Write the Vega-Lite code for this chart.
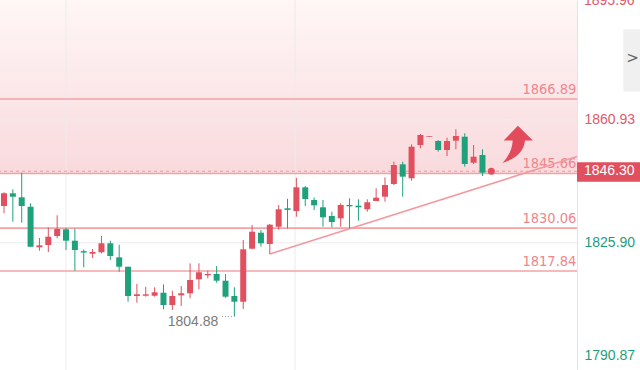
{
  "$schema": "https://vega.github.io/schema/vega-lite/v6.json",
  "width": 577,
  "height": 370,
  "autosize": {"type": "none"},
  "padding": {"left": 0, "top": 0, "right": 63, "bottom": 0},
  "background": "white",
  "config": {"view": {"stroke": null}},
  "datasets": {
    "candles": [
      {"i": 0, "o": 1836.38, "h": 1840.3, "l": 1834.3, "c": 1840.0},
      {"i": 1, "o": 1840.0, "h": 1841.14, "l": 1831.9, "c": 1839.03},
      {"i": 2, "o": 1838.86, "h": 1845.88, "l": 1831.62, "c": 1836.38},
      {"i": 3, "o": 1836.18, "h": 1837.15, "l": 1824.78, "c": 1824.78},
      {"i": 4, "o": 1824.6, "h": 1827.26, "l": 1823.64, "c": 1825.17},
      {"i": 5, "o": 1825.26, "h": 1830.31, "l": 1823.26, "c": 1827.63},
      {"i": 6, "o": 1827.83, "h": 1833.73, "l": 1827.17, "c": 1829.82},
      {"i": 7, "o": 1829.74, "h": 1830.1, "l": 1823.83, "c": 1826.49},
      {"i": 8, "o": 1826.49, "h": 1829.91, "l": 1817.93, "c": 1823.83},
      {"i": 9, "o": 1823.5, "h": 1824.0, "l": 1818.9, "c": 1823.1},
      {"i": 10, "o": 1822.78, "h": 1824.12, "l": 1821.55, "c": 1823.26},
      {"i": 11, "o": 1823.18, "h": 1827.83, "l": 1822.89, "c": 1825.75},
      {"i": 12, "o": 1825.75, "h": 1826.49, "l": 1820.98, "c": 1822.12},
      {"i": 13, "o": 1821.75, "h": 1825.35, "l": 1817.65, "c": 1819.07},
      {"i": 14, "o": 1819.07, "h": 1819.07, "l": 1809.09, "c": 1810.72},
      {"i": 15, "o": 1810.72, "h": 1814.14, "l": 1808.81, "c": 1811.2},
      {"i": 16, "o": 1810.8, "h": 1813.37, "l": 1810.52, "c": 1811.2},
      {"i": 17, "o": 1810.8, "h": 1813.2, "l": 1810.52, "c": 1811.77},
      {"i": 18, "o": 1811.66, "h": 1814.05, "l": 1806.93, "c": 1808.15},
      {"i": 19, "o": 1808.15, "h": 1812.23, "l": 1806.73, "c": 1810.72},
      {"i": 20, "o": 1810.92, "h": 1813.57, "l": 1807.87, "c": 1811.49},
      {"i": 21, "o": 1811.49, "h": 1820.04, "l": 1810.06, "c": 1815.28},
      {"i": 22, "o": 1815.48, "h": 1820.04, "l": 1812.63, "c": 1817.48},
      {"i": 23, "o": 1816.62, "h": 1817.93, "l": 1815.77, "c": 1816.99},
      {"i": 24, "o": 1816.99, "h": 1819.27, "l": 1814.51, "c": 1815.08},
      {"i": 25, "o": 1815.08, "h": 1816.99, "l": 1810.23, "c": 1810.52},
      {"i": 26, "o": 1810.72, "h": 1813.2, "l": 1804.88, "c": 1809.09},
      {"i": 27, "o": 1809.09, "h": 1826.69, "l": 1807.01, "c": 1824.03},
      {"i": 28, "o": 1824.21, "h": 1830.96, "l": 1824.03, "c": 1829.05},
      {"i": 29, "o": 1828.77, "h": 1829.54, "l": 1824.78, "c": 1825.75},
      {"i": 30, "o": 1825.55, "h": 1831.25, "l": 1822.69, "c": 1831.05},
      {"i": 31, "o": 1830.48, "h": 1836.67, "l": 1829.62, "c": 1835.44},
      {"i": 32, "o": 1835.73, "h": 1838.43, "l": 1830.02, "c": 1835.27},
      {"i": 33, "o": 1834.96, "h": 1844.42, "l": 1833.33, "c": 1841.71},
      {"i": 34, "o": 1841.71, "h": 1842.08, "l": 1836.38, "c": 1838.38},
      {"i": 35, "o": 1838.09, "h": 1838.8, "l": 1835.24, "c": 1836.58},
      {"i": 36, "o": 1836.01, "h": 1838.09, "l": 1830.48, "c": 1833.16},
      {"i": 37, "o": 1833.53, "h": 1834.76, "l": 1830.31, "c": 1831.82},
      {"i": 38, "o": 1832.87, "h": 1837.15, "l": 1830.48, "c": 1836.67},
      {"i": 39, "o": 1836.67, "h": 1838.58, "l": 1830.02, "c": 1836.3},
      {"i": 40, "o": 1836.47, "h": 1838.29, "l": 1832.19, "c": 1836.01},
      {"i": 41, "o": 1835.44, "h": 1838.29, "l": 1834.76, "c": 1837.44},
      {"i": 42, "o": 1837.81, "h": 1841.43, "l": 1837.81, "c": 1838.75},
      {"i": 43, "o": 1839.03, "h": 1844.56, "l": 1837.61, "c": 1842.37},
      {"i": 44, "o": 1842.65, "h": 1849.01, "l": 1842.37, "c": 1848.07},
      {"i": 45, "o": 1848.27, "h": 1849.01, "l": 1839.03, "c": 1844.74},
      {"i": 46, "o": 1844.28, "h": 1853.97, "l": 1843.6, "c": 1853.29},
      {"i": 47, "o": 1853.77, "h": 1856.91, "l": 1852.83, "c": 1856.63},
      {"i": 48, "o": 1856.14, "h": 1856.34, "l": 1856.14, "c": 1856.34},
      {"i": 49, "o": 1854.92, "h": 1855.2, "l": 1851.86, "c": 1852.35},
      {"i": 50, "o": 1852.35, "h": 1855.86, "l": 1850.64, "c": 1854.92},
      {"i": 51, "o": 1855.0, "h": 1858.25, "l": 1852.55, "c": 1856.34},
      {"i": 52, "o": 1856.14, "h": 1857.11, "l": 1847.59, "c": 1848.36},
      {"i": 53, "o": 1848.73, "h": 1853.77, "l": 1848.36, "c": 1850.44},
      {"i": 54, "o": 1850.92, "h": 1852.55, "l": 1844.94, "c": 1845.88}
    ],
    "levels": [
      {"v": 1866.89, "label": "1866.89"},
      {"v": 1845.66, "label": "1845.66"},
      {"v": 1830.06, "label": "1830.06"},
      {"v": 1817.84, "label": "1817.84"}
    ],
    "trend": [
      {"i": 30, "p": 1822.69},
      {"i": 64.67, "p": 1850.49}
    ],
    "zone": [{"lo": 1845.66, "hi": 1895.12}],
    "vgrid": [{"i": 7}, {"i": 32.85}],
    "hgrid": [{"p": 1860.93}, {"p": 1825.9}],
    "last": [{"i": 55, "p": 1846.3, "label": "1846.30", "i1": 64.67, "i2": 71.8, "lo": 1843.31, "hi": 1848.84}],
    "topLabel": [{"i1": 64.67, "p": 1895.96, "label": "1895.96"}],
    "low": [{"i": 26, "i0": 24.6, "p": 1804.88, "label": "1804.88"}],
    "arrow": [{"i": 58.0, "p": 1853.9}],
    "btn": [{"i1": 69.9, "i2": 71.9, "lo": 1869.0, "hi": 1886.8, "im": 70.95, "pm": 1878.6, "label": ">"}]
  },
  "layer": [
    {
      "data": {"name": "zone"},
      "mark": {"type": "rect", "fill": {"gradient": "linear", "x1": 0, "y1": 0, "x2": 0, "y2": 1, "stops": [{"offset": 0, "color": "#fff6f6"}, {"offset": 1, "color": "#f9dadd"}]}},
      "encoding": {
        "y": {"field": "lo", "type": "quantitative", "scale": {"domain": [1789.62, 1895.12], "nice": false, "zero": false, "padding": 0},
          "axis": {"orient": "right", "title": null, "values": [1860.93, 1825.9, 1790.87], "format": ".2f", "grid": false, "ticks": false,
            "domainColor": "#e4e4e4", "labelFont": "Liberation Sans", "labelFontSize": 14, "labelPadding": 7, "labelBaseline": "middle", "labelFlush": false, "labelOverlap": false, "labelBound": false,
            "labelColor": {"condition": {"test": "datum.value > 1846", "value": "#e0596b"}, "value": "#1e9e78"},
            "labelOffset": {"condition": [{"test": "datum.value < 1800", "value": -10}], "value": 0}}},
        "y2": {"field": "hi"}
      }
    },
    {
      "data": {"name": "vgrid"},
      "mark": {"type": "rule", "color": "#ececec", "strokeWidth": 1},
      "encoding": {"x": {"field": "i", "type": "quantitative", "scale": {"domain": [-0.451, 64.67], "nice": false, "zero": false, "padding": 0}, "axis": null}}
    },
    {
      "data": {"name": "hgrid"},
      "mark": {"type": "rule", "color": "#ececec", "strokeWidth": 1},
      "encoding": {"y": {"field": "p", "type": "quantitative"}}
    },
    {
      "data": {"name": "levels"},
      "mark": {"type": "rule", "color": "#f4a2a6", "strokeWidth": 1.6},
      "encoding": {"y": {"field": "v", "type": "quantitative"}}
    },
    {
      "data": {"name": "last"},
      "mark": {"type": "rule", "color": "#f29aa0", "strokeWidth": 1, "strokeDash": [3, 3]},
      "encoding": {"y": {"field": "p", "type": "quantitative"}}
    },
    {
      "data": {"name": "levels"},
      "mark": {"type": "text", "font": "Liberation Sans Narrow, DejaVu Sans Condensed, Liberation Sans", "fontSize": 14.5, "color": "#f0868d", "align": "right", "baseline": "bottom", "dy": -2},
      "encoding": {"x": {"datum": 64.6, "type": "quantitative"}, "y": {"field": "v", "type": "quantitative"}, "text": {"field": "label"}}
    },
    {
      "data": {"name": "trend"},
      "mark": {"type": "line", "color": "#f29aa0", "strokeWidth": 1.6},
      "encoding": {"x": {"field": "i", "type": "quantitative"}, "y": {"field": "p", "type": "quantitative"}}
    },
    {
      "data": {"name": "candles"},
      "mark": {"type": "rule", "strokeWidth": 1},
      "encoding": {
        "x": {"field": "i", "type": "quantitative"},
        "y": {"field": "l", "type": "quantitative"},
        "y2": {"field": "h"},
        "color": {"condition": {"test": "datum.c >= datum.o", "value": "#e0505f"}, "value": "#1fa27b"}
      }
    },
    {
      "data": {"name": "candles"},
      "mark": {"type": "bar", "size": 6, "orient": "vertical"},
      "encoding": {
        "x": {"field": "i", "type": "quantitative"},
        "y": {"field": "o", "type": "quantitative"},
        "y2": {"field": "c"},
        "color": {"condition": {"test": "datum.c >= datum.o", "value": "#e0505f"}, "value": "#1fa27b"}
      }
    },
    {
      "data": {"name": "last"},
      "mark": {"type": "point", "filled": true, "size": 50, "color": "#e0505f", "opacity": 1},
      "encoding": {"x": {"field": "i", "type": "quantitative"}, "y": {"field": "p", "type": "quantitative"}}
    },
    {
      "data": {"name": "arrow"},
      "mark": {"type": "point", "filled": true, "size": 1400, "color": "#e14b5b", "opacity": 1,
        "shape": "M 0 -1 L 0.8 -0.22 L 0.38 -0.22 Q 0.3 0.62 -0.82 0.98 Q -0.3 0.42 -0.28 -0.22 L -0.76 -0.22 Z"},
      "encoding": {"x": {"field": "i", "type": "quantitative"}, "y": {"field": "p", "type": "quantitative"}}
    },
    {
      "data": {"name": "low"},
      "mark": {"type": "rule", "color": "#9a9a9a", "strokeWidth": 1, "strokeDash": [1, 2]},
      "encoding": {"x": {"field": "i0", "type": "quantitative"}, "x2": {"field": "i"}, "y": {"field": "p", "type": "quantitative"}}
    },
    {
      "data": {"name": "low"},
      "mark": {"type": "text", "font": "Liberation Sans", "fontSize": 14, "color": "#7a7a7a", "align": "right", "baseline": "middle", "dx": -16, "dy": 6},
      "encoding": {"x": {"field": "i", "type": "quantitative"}, "y": {"field": "p", "type": "quantitative"}, "text": {"field": "label"}}
    },
    {
      "data": {"name": "last"},
      "mark": {"type": "rect", "color": "#e0505f"},
      "encoding": {"x": {"field": "i1", "type": "quantitative"}, "x2": {"field": "i2"}, "y": {"field": "lo", "type": "quantitative"}, "y2": {"field": "hi"}}
    },
    {
      "data": {"name": "last"},
      "mark": {"type": "text", "font": "Liberation Sans", "fontSize": 14, "color": "white", "align": "left", "baseline": "middle", "dx": 7},
      "encoding": {"x": {"field": "i1", "type": "quantitative"}, "y": {"field": "p", "type": "quantitative"}, "text": {"field": "label"}}
    },
    {
      "data": {"name": "topLabel"},
      "mark": {"type": "text", "font": "Liberation Sans", "fontSize": 14, "color": "#e0596b", "align": "left", "baseline": "middle", "dx": 7, "dy": 4},
      "encoding": {"x": {"field": "i1", "type": "quantitative"}, "y": {"field": "p", "type": "quantitative"}, "text": {"field": "label"}}
    },
    {
      "data": {"name": "btn"},
      "mark": {"type": "rect", "color": "#f0f0f0"},
      "encoding": {"x": {"field": "i1", "type": "quantitative"}, "x2": {"field": "i2"}, "y": {"field": "lo", "type": "quantitative"}, "y2": {"field": "hi"}}
    },
    {
      "data": {"name": "btn"},
      "mark": {"type": "text", "font": "DejaVu Sans", "fontSize": 15, "color": "#666666", "align": "center", "baseline": "middle"},
      "encoding": {"x": {"field": "im", "type": "quantitative"}, "y": {"field": "pm", "type": "quantitative"}, "text": {"field": "label"}}
    }
  ]
}
